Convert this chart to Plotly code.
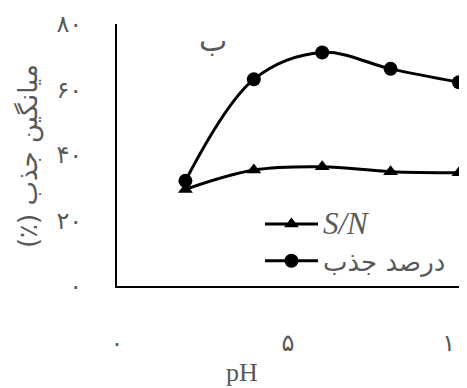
import plotly.graph_objects as go

ph = [2, 4, 6, 8, 10]
absorb = [32.1, 63.1, 71.3, 66.3, 62.2]
sn = [29.5, 35.4, 36.4, 34.9, 34.6]

y_ticks = [0, 20, 40, 60, 80]
y_labels = ["۰", "۲۰", "۴۰", "۶۰", "۸۰"]
x_ticks = [0, 5, 10]
x_labels = ["۰", "۵", "۱۰\u00a0"]

GRAY = "#595959"
FA = "DejaVu Sans"
RLM = "\u200f"

fig = go.Figure()
fig.add_trace(go.Scatter(
    x=ph, y=sn, mode="lines+markers", line_shape="spline",
    name="<span style='font-family:Liberation Serif;font-size:31px'><i>S/N</i></span>",
    legendgroup="a",
    line=dict(color="black", width=3),
    marker=dict(symbol="triangle-up", size=13, color="black"),
))
fig.add_trace(go.Scatter(
    x=ph, y=absorb, mode="lines+markers", line_shape="spline",
    name="درصد جذب", legendgroup="b",
    line=dict(color="black", width=3),
    marker=dict(symbol="circle", size=14, color="black"),
))

fig.add_annotation(x=2.81, y=74.9, text="ب", showarrow=False,
                   font=dict(family=FA, size=30, color=GRAY))
fig.add_annotation(x=0, xref="paper", y=0.496, yref="paper", xshift=-89,
                   xanchor="center", yanchor="middle",
                   text=RLM + "میانگین جذب (٪)" + RLM, textangle=-90,
                   showarrow=False,
                   font=dict(family=FA, size=26, color=GRAY))
fig.add_annotation(x=0.365, xref="paper", y=0, yref="paper", yshift=-86,
                   xanchor="center", yanchor="middle",
                   text="pH", showarrow=False,
                   font=dict(family="Liberation Serif", size=26, color=GRAY))

# page body has an 8px margin, so the figure is shrunk by that much
fig.update_layout(
    width=459, height=380,
    margin=dict(l=109, r=8, t=16, b=102),
    plot_bgcolor="white", paper_bgcolor="white",
    font=dict(family=FA, size=18, color=GRAY),
    showlegend=True,
    legend=dict(x=0.418, y=0.326, xanchor="left", yanchor="top",
                bgcolor="rgba(0,0,0,0)", itemwidth=53,
                tracegroupgap=0, traceorder="grouped",
                font=dict(family=FA, size=26, color=GRAY)),
    xaxis=dict(range=[0, 10], tickvals=x_ticks, ticktext=x_labels,
               showline=True, linecolor="black", linewidth=2,
               showgrid=False, zeroline=False, ticks="", automargin=False,
               ticklabeloverflow="allow",
               ticklabelstandoff=34, tickfont=dict(size=24, color=GRAY)),
    yaxis=dict(range=[0, 80], tickvals=y_ticks, ticktext=y_labels,
               showline=True, linecolor="black", linewidth=2,
               showgrid=False, zeroline=False, ticks="", automargin=False,
               ticklabelstandoff=28, tickfont=dict(size=24, color=GRAY)),
)

fig.write_html("out.html")
